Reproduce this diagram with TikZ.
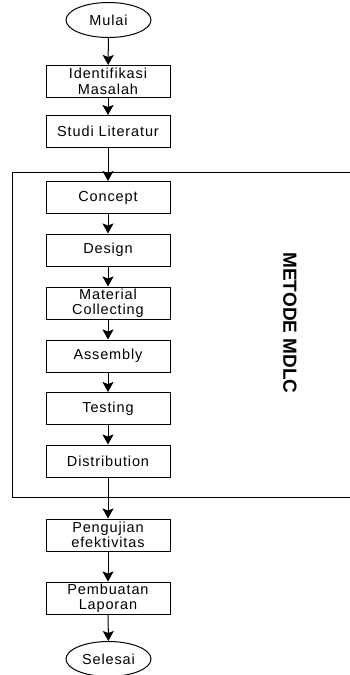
\documentclass[tikz,border=0pt]{standalone}
\usepackage{fontspec}
\setmainfont{Liberation Sans}
\newfontfamily\kotakfont[LetterSpace=6]{Liberation Sans}
\usetikzlibrary{arrows.meta,shapes.geometric}

\begin{document}
\begin{tikzpicture}[x=1pt,y=1pt,
	kotak/.style={draw, line width=1, minimum width=124, minimum height=32, inner sep=0, align=center, font=\kotakfont\fontsize{14.5}{15.5}\selectfont},
	elips/.style={draw, ellipse, line width=1, minimum width=85, minimum height=35, inner sep=0, font=\kotakfont\fontsize{14.5}{15.5}\selectfont},
	panah/.style={line width=1, -{Stealth[length=10pt,width=11pt,inset=2pt]}}]
	\useasboundingbox (0,0) rectangle (350,-675);
	% alur utama
	\node[elips] (mulai) at (108.5,-20) {Mulai};
	\node[kotak] (identifikasi) at (108,-81.5) {Identifikasi\\Masalah};
	\node[kotak] (studi) at (108,-131.5) {Studi Literatur};
	\node[kotak] (concept) at (108,-197.5) {Concept};
	\node[kotak] (design) at (108,-250) {Design};
	\node[kotak] (material) at (108,-303) {Material\\Collecting};
	\node[kotak] (assembly) at (108,-356) {Assembly};
	\node[kotak] (testing) at (108,-408.5) {Testing};
	\node[kotak] (distribution) at (108,-461) {Distribution};
	\node[kotak] (pengujian) at (108,-535) {Pengujian\\efektivitas};
	\node[kotak] (pembuatan) at (108,-598) {Pembuatan\\Laporan};
	\node[elips] (selesai) at (108.5,-659) {Selesai};
	% bingkai MDLC, terbuka di kanan
	\coordinate (Ka) at (352,-172);
	\coordinate (Ki) at (12,-172);
	\coordinate (Kb) at (12,-497);
	\coordinate (Kc) at (352,-497);
	\draw[line width=1] (Ka) -- (Ki) -- (Kb) -- (Kc);
	\node[rotate=-90, font=\bfseries\fontsize{19}{19}\selectfont] (mdlc) at (290,-323) {METODE MDLC};
	% panah
	\draw[panah] (mulai) -- (identifikasi);
	\draw[panah] (identifikasi) -- (studi);
	\draw[panah] (studi) -- (concept);
	\draw[panah] (concept) -- (design);
	\draw[panah] (design) -- (material);
	\draw[panah] (material) -- (assembly);
	\draw[panah] (assembly) -- (testing);
	\draw[panah] (testing) -- (distribution);
	\draw[panah] (distribution) -- (pengujian);
	\draw[panah] (pengujian) -- (pembuatan);
	\draw[panah] (pembuatan) -- (selesai);
\end{tikzpicture}
\end{document}
